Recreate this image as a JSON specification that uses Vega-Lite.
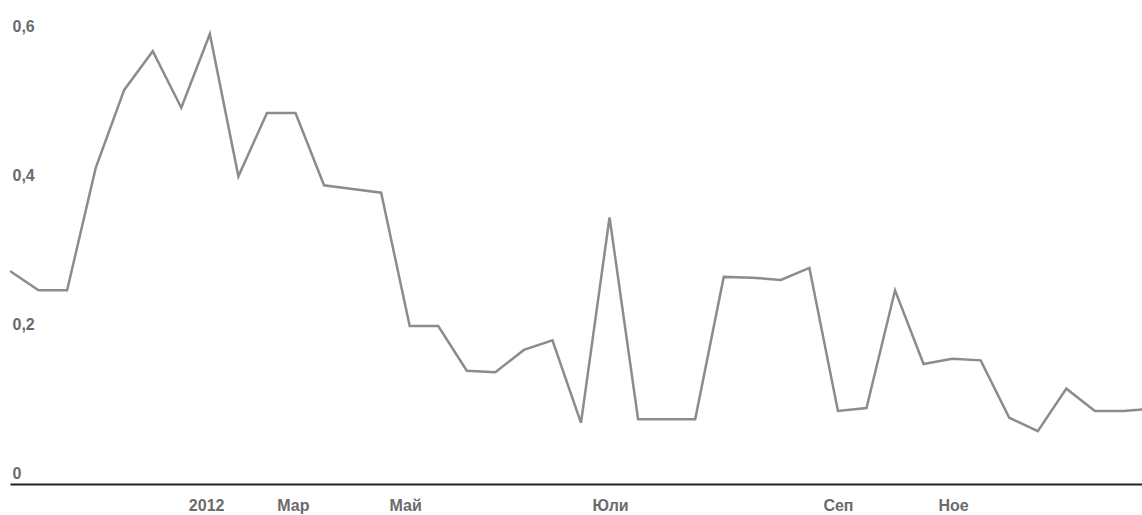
{
  "$schema": "https://vega.github.io/schema/vega-lite/v6.json",
  "width": 1132,
  "height": 484,
  "autosize": {"type": "none"},
  "padding": {"left": 10, "top": 0, "right": 0, "bottom": 31},
  "background": "white",
  "config": {
    "view": {"stroke": null},
    "font": "Liberation Sans"
  },
  "data": {
    "values": [
      {"i": 0, "v": 0.286}, {"i": 1, "v": 0.26}, {"i": 2, "v": 0.26}, {"i": 3, "v": 0.424},
      {"i": 4, "v": 0.529}, {"i": 5, "v": 0.581}, {"i": 6, "v": 0.505}, {"i": 7, "v": 0.604},
      {"i": 8, "v": 0.413}, {"i": 9, "v": 0.498}, {"i": 10, "v": 0.498}, {"i": 11, "v": 0.401},
      {"i": 12, "v": 0.396}, {"i": 13, "v": 0.391}, {"i": 14, "v": 0.212}, {"i": 15, "v": 0.212},
      {"i": 16, "v": 0.152}, {"i": 17, "v": 0.15}, {"i": 18, "v": 0.18}, {"i": 19, "v": 0.193},
      {"i": 20, "v": 0.082}, {"i": 21, "v": 0.358}, {"i": 22, "v": 0.087}, {"i": 23, "v": 0.087},
      {"i": 24, "v": 0.087}, {"i": 25, "v": 0.278}, {"i": 26, "v": 0.277}, {"i": 27, "v": 0.274},
      {"i": 28, "v": 0.29}, {"i": 29, "v": 0.098}, {"i": 30, "v": 0.102}, {"i": 31, "v": 0.26},
      {"i": 32, "v": 0.161}, {"i": 33, "v": 0.168}, {"i": 34, "v": 0.166}, {"i": 35, "v": 0.089},
      {"i": 36, "v": 0.071}, {"i": 37, "v": 0.128}, {"i": 38, "v": 0.098}, {"i": 39, "v": 0.098},
      {"i": 40, "v": 0.101}
    ]
  },
  "mark": {"type": "line", "color": "#8c8c8c", "strokeWidth": 2.5, "clip": true},
  "encoding": {
    "x": {
      "field": "i",
      "type": "quantitative",
      "scale": {"domain": [0, 39.65], "nice": false, "zero": false},
      "axis": {
        "title": null,
        "values": [6.87, 9.91, 13.84, 21.02, 29, 33.03],
        "labelExpr": "datum.value < 8 ? '2012' : datum.value < 12 ? 'Мар' : datum.value < 17 ? 'Май' : datum.value < 25 ? 'Юли' : datum.value < 31 ? 'Сеп' : 'Ное'",
        "grid": false,
        "ticks": false,
        "domainColor": "#222222",
        "domainWidth": 2,
        "labelFontSize": 16,
        "labelFontWeight": "bold",
        "labelColor": "#6b6b6b",
        "labelPadding": 13,
        "labelBaseline": "top",
        "labelFlush": false
      }
    },
    "y": {
      "field": "v",
      "type": "quantitative",
      "scale": {"domain": [0, 0.6497], "nice": false},
      "axis": {
        "title": null,
        "values": [0, 0.2, 0.4, 0.6],
        "labelExpr": "replace(format(datum.value, '.1~f'), '.', ',')",
        "grid": false,
        "ticks": false,
        "domain": false,
        "labelAlign": "left",
        "labelPadding": -2,
        "labelBaseline": "alphabetic",
        "labelOffset": -6,
        "labelFontSize": 16,
        "labelFontWeight": "bold",
        "labelColor": "#6b6b6b",
        "labelFlush": false
      }
    }
  }
}
